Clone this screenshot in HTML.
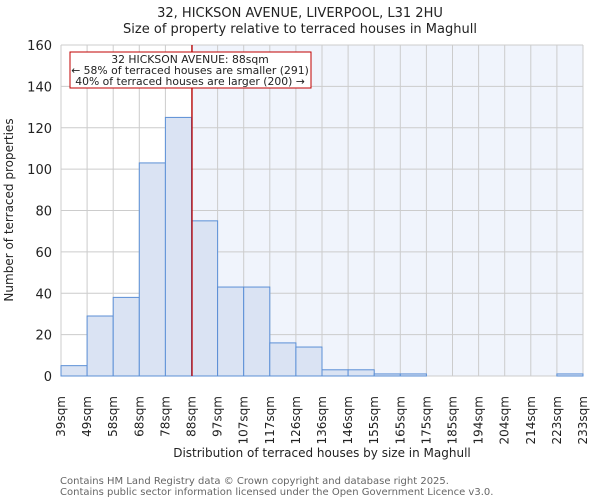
<!DOCTYPE html>
<html><head><meta charset="utf-8"><style>body{margin:0;background:#fff}svg{display:block;font-family:"DejaVu Sans","Liberation Sans",sans-serif}</style></head><body>
<svg width="600" height="500" xmlns="http://www.w3.org/2000/svg">
<rect width="600" height="500" fill="#fff"/>
<text x="300" y="17" font-size="13" text-anchor="middle" fill="#222">32, HICKSON AVENUE, LIVERPOOL, L31 2HU</text>
<text x="300" y="33" font-size="13" text-anchor="middle" fill="#222">Size of property relative to terraced houses in Maghull</text>
<rect x="192" y="45" width="391" height="331" fill="#f0f4fc"/>
<g id="grid" stroke="#cccccc" stroke-width="1"></g>
<g id="bars"></g>
<line x1="192" y1="45" x2="192" y2="376" stroke="#c00000" stroke-width="1.3"/>
<rect x="70" y="52" width="241" height="36" fill="#fff" stroke="#c00000" stroke-width="1"/>
<text x="190" y="63" font-size="10.8" text-anchor="middle" fill="#222">32 HICKSON AVENUE: 88sqm</text>
<text x="190" y="74" font-size="10.8" text-anchor="middle" fill="#222">← 58% of terraced houses are smaller (291)</text>
<text x="190" y="85" font-size="10.8" text-anchor="middle" fill="#222">40% of terraced houses are larger (200) →</text>
<g id="yl" font-size="13" fill="#222" text-anchor="end"></g>
<g id="xl" font-size="12" fill="#222"></g>
<text transform="translate(13,210) rotate(-90)" font-size="12" text-anchor="middle" fill="#222">Number of terraced properties</text>
<text x="322" y="457" font-size="12" text-anchor="middle" fill="#222">Distribution of terraced houses by size in Maghull</text>
<text x="60" y="484" font-size="10" fill="#666">Contains HM Land Registry data © Crown copyright and database right 2025.</text>
<text x="60" y="495" font-size="10" fill="#666">Contains public sector information licensed under the Open Government Licence v3.0.</text>
<script>
var ns="http://www.w3.org/2000/svg";
function el(p,t,a,txt){var e=document.createElementNS(ns,t);for(var k in a)e.setAttribute(k,a[k]);if(txt!=null)e.textContent=txt;document.getElementById(p).appendChild(e);}
var x0=61,w=26.1,y0=376,s=331/160;
for(var i=0;i<=20;i++)el("grid","line",{x1:x0+i*w,x2:x0+i*w,y1:45,y2:376});
for(var v=0;v<=160;v+=20){el("grid","line",{x1:x0,x2:583,y1:y0-v*s,y2:y0-v*s});el("yl","text",{x:52,y:y0-v*s+5},v);}
var d=[5,29,38,103,125,75,43,43,16,14,3,3,1,1,0,0,0,0,0,1];
d.forEach(function(v,i){if(v>0)el("bars","rect",{x:x0+i*w,y:y0-v*s,width:w,height:v*s,fill:"#dae3f3",stroke:"#5b8fd6","stroke-width":1});});
var L=["39sqm","49sqm","58sqm","68sqm","78sqm","88sqm","97sqm","107sqm","117sqm","126sqm","136sqm","146sqm","155sqm","165sqm","175sqm","185sqm","194sqm","204sqm","214sqm","223sqm","233sqm"];
L.forEach(function(t,i){var x=x0+i*w+4;el("xl","text",{transform:"translate("+x+",396) rotate(-90)","text-anchor":"end"},t);});
</script>
</svg>
</body></html>
